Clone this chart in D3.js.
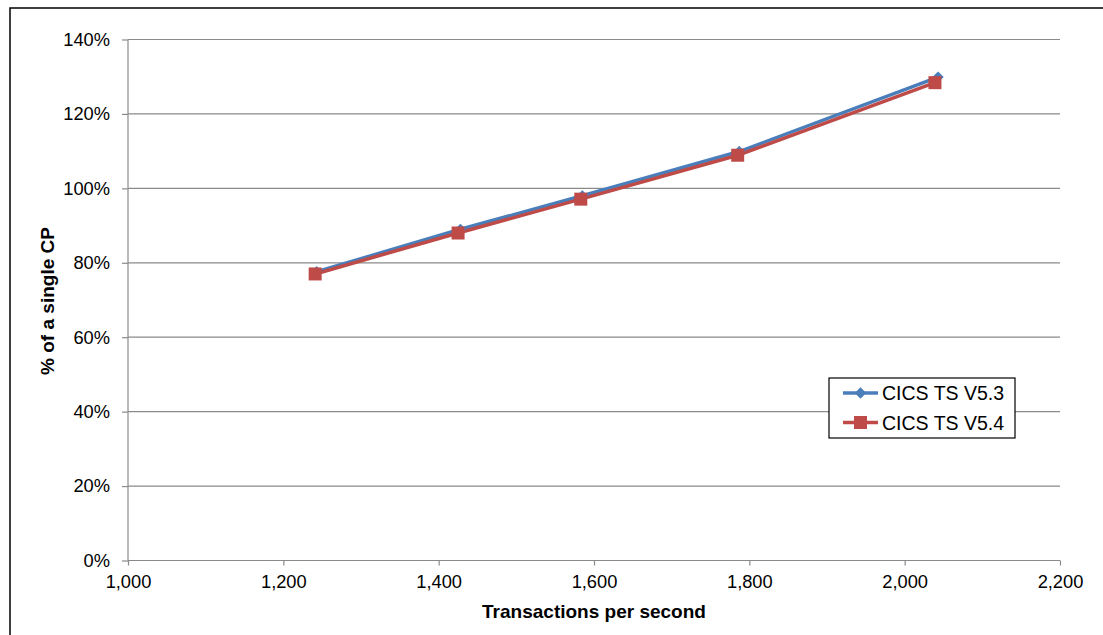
<!DOCTYPE html>
<html><head><meta charset="utf-8">
<script src="https://cdn.jsdelivr.net/npm/d3@7"></script>
<style>body{margin:0;background:#fff;} svg{display:block;}</style>
</head><body>
<svg id="c" width="1103" height="635"></svg>
<script>
const seriesNames = ["CICS TS V5.3", "CICS TS V5.4"];
const v53x = [1243, 1428, 1585, 1787, 2043];
const v53y = [77.6, 89.0, 98.0, 109.9, 129.9];
const v54x = [1241, 1425, 1583, 1785, 2039];
const v54y = [77.0, 88.0, 97.1, 108.9, 128.4];
const xTicks = [1000, 1200, 1400, 1600, 1800, 2000, 2200];
const yTicks = [0, 20, 40, 60, 80, 100, 120, 140];
const colors = ["#4a7ebb", "#be4b48"];

const svg = d3.select("#c");
const font = "'Liberation Sans', Arial, sans-serif";
svg.append("rect").attr("x", 10).attr("y", 8).attr("width", 1100).attr("height", 640)
  .attr("fill", "none").attr("stroke", "#000").attr("stroke-width", 1.5);

const L = 128, R = 1060, T = 39.5, B = 560.5;
const x = d3.scaleLinear().domain([1000, 2200]).range([L, R]);
const y = d3.scaleLinear().domain([0, 140]).range([B, T]);

// gridlines
svg.append("g").selectAll("line").data(yTicks.filter(d => d > 0)).join("line")
  .attr("x1", L).attr("x2", R).attr("y1", d => y(d)).attr("y2", d => y(d))
  .attr("stroke", "#8a8a8a").attr("stroke-width", 1.2);

const yAxis = svg.append("g").attr("transform", `translate(${L},0)`)
  .call(d3.axisLeft(y).tickValues(yTicks).tickSize(6).tickPadding(12).tickFormat(d => d + "%"));
const xAxis = svg.append("g").attr("transform", `translate(0,${B})`)
  .call(d3.axisBottom(x).tickValues(xTicks).tickSize(5).tickPadding(9.5).tickFormat(d3.format(",")));
[yAxis, xAxis].forEach(a => {
  a.selectAll("path,line").attr("stroke", "#8a8a8a").attr("stroke-width", 1.2);
  a.select(".domain").attr("d", a === yAxis ? `M0,${B}V${T}` : `M${L},0H${R}`);
  a.selectAll("text").attr("font-family", font).attr("font-size", 18.3).attr("fill", "#000");
});

svg.append("text").attr("x", 594).attr("y", 618).attr("text-anchor", "middle")
  .attr("font-family", font).attr("font-weight", "bold").attr("font-size", 19).text("Transactions per second");
svg.append("text").attr("transform", "translate(54,301) rotate(-90)").attr("text-anchor", "middle")
  .attr("font-family", font).attr("font-weight", "bold").attr("font-size", 19).text("% of a single CP");

const data = [v53x.map((d, i) => [d, v53y[i]]), v54x.map((d, i) => [d, v54y[i]])];
const line = d3.line().x(d => x(d[0])).y(d => y(d[1]));
data.forEach((s, k) => {
  svg.append("path").attr("d", line(s)).attr("fill", "none").attr("stroke", colors[k]).attr("stroke-width", 3.5);
});
// markers
svg.append("g").selectAll("path").data(data[0]).join("path")
  .attr("transform", d => `translate(${x(d[0])},${y(d[1])}) rotate(45)`)
  .attr("d", "M-4,-4H4V4H-4Z").attr("fill", colors[0]);
svg.append("g").selectAll("rect").data(data[1]).join("rect")
  .attr("x", d => x(d[0]) - 6.5).attr("y", d => y(d[1]) - 6.5).attr("width", 13).attr("height", 13)
  .attr("fill", colors[1]);

// legend
const lg = svg.append("g");
lg.append("rect").attr("x", 829).attr("y", 378).attr("width", 186).attr("height", 60)
  .attr("fill", "#fff").attr("stroke", "#000").attr("stroke-width", 1.2);
seriesNames.forEach((n, k) => {
  const cy = 393 + k * 29.5;
  lg.append("line").attr("x1", 843).attr("x2", 878).attr("y1", cy).attr("y2", cy)
    .attr("stroke", colors[k]).attr("stroke-width", 3.5);
  if (k === 0) lg.append("path").attr("transform", `translate(860.5,${cy}) rotate(45)`).attr("d", "M-4,-4H4V4H-4Z").attr("fill", colors[0]);
  else lg.append("rect").attr("x", 854).attr("y", cy - 6.5).attr("width", 13).attr("height", 13).attr("fill", colors[1]);
  lg.append("text").attr("x", 882).attr("y", cy + 7).attr("font-family", font).attr("font-size", 19.5).text(n);
});
</script>
</body></html>
